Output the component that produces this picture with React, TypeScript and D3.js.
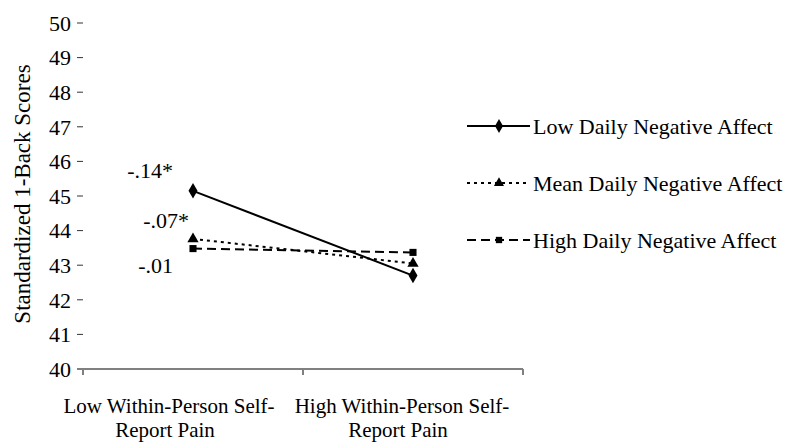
import { useEffect, useRef } from 'react';
import * as d3 from 'd3';

const categories = ['Low Within-Person Self-Report Pain', 'High Within-Person Self-Report Pain'];
const categoryLines = [
  ['Low Within-Person Self-', 'Report Pain'],
  ['High Within-Person Self-', 'Report Pain'],
];
const seriesNames = ['Low Daily Negative Affect', 'Mean Daily Negative Affect', 'High Daily Negative Affect'];
const lowValues = [45.15, 42.7];
const meanValues = [43.76, 43.05];
const highValues = [43.48, 43.37];
const slopeLabels = ['-.14*', '-.07*', '-.01'];
const yTicks = [40, 41, 42, 43, 44, 45, 46, 47, 48, 49, 50];

export default function App() {
  const svgRef = useRef<SVGSVGElement>(null);

  useEffect(() => {
    if (!svgRef.current) return;
    const svg = d3.select(svgRef.current);
    svg.selectAll('*').remove();

    const width = 811;
    const height = 442;
    const font = '"Liberation Serif", "Times New Roman", serif';

    svg.attr('viewBox', `0 0 ${width} ${height}`);

    const xScale = d3.scaleBand().domain(categories).range([83, 523]);
    const yScale = d3.scaleLinear().domain([40, 50]).range([369, 23]);
    const cx = (c: string) => (xScale(c) as number) + xScale.bandwidth() / 2;
    // category labels sit a bit left of the band centres, as in the original
    const labelX = d3.scalePoint().domain(categories).range([165, 398]);

    // y ticks (no visible axis line)
    const yAxis = svg.append('g');
    yTicks.forEach(t => {
      yAxis.append('line')
        .attr('x1', 77).attr('x2', 83)
        .attr('y1', yScale(t)).attr('y2', yScale(t))
        .attr('stroke', '#333').attr('stroke-width', 1);
      yAxis.append('text')
        .attr('x', 71).attr('y', yScale(t))
        .attr('dy', '0.35em')
        .attr('text-anchor', 'end')
        .style('font-family', font)
        .style('font-size', '22px')
        .text(t);
    });

    // x axis
    const xAxis = svg.append('g');
    xAxis.append('line')
      .attr('x1', 77).attr('x2', 523)
      .attr('y1', yScale(40)).attr('y2', yScale(40))
      .attr('stroke', '#808080').attr('stroke-width', 2);
    const bounds = [...categories.map(c => xScale(c) as number), 523];
    bounds.forEach(b => {
      xAxis.append('line')
        .attr('x1', b).attr('x2', b)
        .attr('y1', yScale(40)).attr('y2', yScale(40) + 6)
        .attr('stroke', '#808080').attr('stroke-width', 2);
    });
    categories.forEach((c, i) => {
      const x = labelX(c) as number;
      categoryLines[i].forEach((line, j) => {
        xAxis.append('text')
          .attr('x', x + (j === 0 ? 4 : 0))
          .attr('y', 413 + j * 24)
          .attr('text-anchor', 'middle')
          .style('font-family', font)
          .style('font-size', '21px')
          .text(line);
      });
    });

    // y title
    svg.append('text')
      .attr('transform', `translate(30, 194) rotate(-90)`)
      .attr('text-anchor', 'middle')
      .style('font-family', font)
      .style('font-size', '23px')
      .text('Standardized 1-Back Scores');

    const series = [
      { name: seriesNames[0], values: lowValues, dash: null, marker: d3.symbolDiamond, size: 70 },
      { name: seriesNames[1], values: meanValues, dash: '3,4', marker: d3.symbolTriangle, size: 55 },
      { name: seriesNames[2], values: highValues, dash: '9,5', marker: d3.symbolSquare, size: 50 },
    ];

    const line = d3.line<number>()
      .x((_, i) => cx(categories[i]))
      .y(d => yScale(d));

    series.forEach(s => {
      svg.append('path')
        .datum(s.values)
        .attr('d', line)
        .attr('fill', 'none')
        .attr('stroke', '#000')
        .attr('stroke-width', 2)
        .attr('stroke-dasharray', s.dash);
      s.values.forEach((v, i) => {
        svg.append('path')
          .attr('d', d3.symbol().type(s.marker).size(s.size)())
          .attr('transform', `translate(${cx(categories[i])},${yScale(v)})`)
          .attr('fill', '#000');
      });
    });

    // slope annotations
    const annY = [178, 228, 273];
    const annX = [173, 189, 173];
    slopeLabels.forEach((l, i) => {
      svg.append('text')
        .attr('x', annX[i]).attr('y', annY[i])
        .attr('text-anchor', 'end')
        .style('font-family', font)
        .style('font-size', '22px')
        .text(l);
    });

    // legend
    series.forEach((s, i) => {
      const y = 126 + i * 57;
      const g = svg.append('g');
      g.append('line')
        .attr('x1', 467).attr('x2', 530)
        .attr('y1', y).attr('y2', y)
        .attr('stroke', '#000').attr('stroke-width', 2)
        .attr('stroke-dasharray', s.dash);
      g.append('path')
        .attr('d', d3.symbol().type(s.marker).size(s.size * 0.8)())
        .attr('transform', `translate(499,${y})`)
        .attr('fill', '#000');
      g.append('text')
        .attr('x', 533).attr('y', y)
        .attr('dy', '0.35em')
        .style('font-family', font)
        .style('font-size', '22px')
        .text(s.name);
    });
  }, []);

  return (
    <svg
      ref={svgRef}
      width={811}
      height={442}
      style={{ position: 'absolute', left: 0, top: 0, background: '#fff' }}
    />
  );
}
